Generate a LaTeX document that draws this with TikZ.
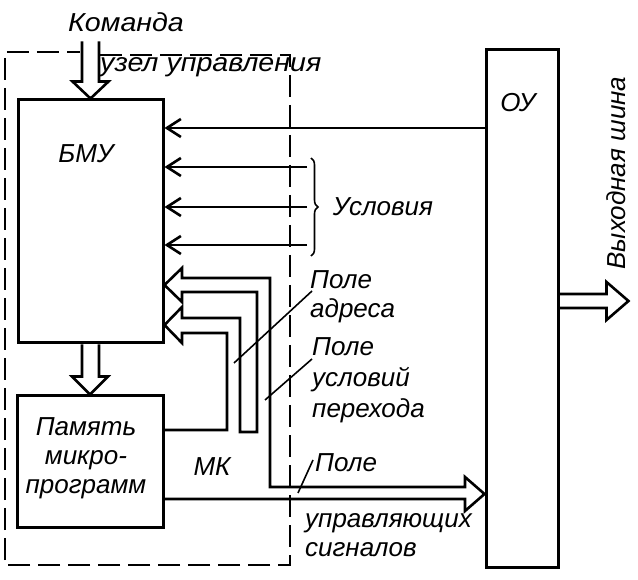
\documentclass[tikz,border=0pt]{standalone}
\usepackage{fontspec}
\setmainfont{Liberation Sans}
\usetikzlibrary{calc,arrows.meta,decorations.pathreplacing}
\tikzset{
  blk/.style={draw, line width=3pt, inner sep=0pt},
  txt/.style={font=\itshape\fontsize{26}{29}\selectfont, inner sep=0pt, align=left},
  sig/.style={line width=2.6pt, -{Straight Barb[length=14pt,width=18pt,line width=2.6pt]}},
  bus/.style={line width=2.6pt, line join=miter},
  lead/.style={line width=1.6pt},
  frame/.style={line width=2.4pt, dash pattern=on 22pt off 8pt}
}

\begin{document}
\begin{tikzpicture}[x=1pt, y=-1pt]
\useasboundingbox (0,0) rectangle (638,580);
\node[blk, minimum width=145, minimum height=243] (bmu) at (90.5,221.5) {};
\node[blk, minimum width=146, minimum height=131] (pm) at (90,461.5) {};
\node[blk, minimum width=72, minimum height=517] (ou) at (522,308.5) {};

\node[txt, xscale=1.1] (cmd) at (126,22) {Команда};
\node[txt, anchor=west, xscale=1.1] (uzel) at (100,67) {узел управления};
\node[txt] (bmut) at (86,154) {БМУ};
\node[txt, align=center] (pmt) at (86,458) {Память\\микро-\\программ};
\node[txt] (out) at (518,103) {ОУ};
\node[txt, rotate=90] (obust) at (616,173) {Выходная шина};
\node[txt] (cond) at (383,207) {Условия};
\node[txt, anchor=west] (fa) at (310,297) {Поле\\адреса};
\node[txt, anchor=west, font=\itshape\fontsize{26}{31}\selectfont] (fu) at (312,380) {Поле\\условий\\перехода};
\node[txt] (mk) at (212,467) {МК};
\node[txt, anchor=west] (fc) at (315,463) {Поле};
\node[txt, anchor=west] (fcs) at (305,535) {управляющих\\сигналов};

\draw[frame] (100,55) -- (290,55) -- (290,565) -- (5,565) -- (5,52) -- (80,52);

\draw[bus] ($(bmu.north)+(-8.5,-57)$) |- ($(bmu.north)+(-18,-17)$) -- (bmu.north)
  -- ($(bmu.north)+(18,-17)$) -| ($(bmu.north)+(8.5,-57)$);
\draw[bus] ($(bmu.south)+(-8.5,0)$) |- ($(pm.north)+(-18,-18)$) -- (pm.north)
  -- ($(pm.north)+(18,-18)$) -| ($(bmu.south)+(8.5,0)$);

\coordinate (obus) at ($(ou.east)+(69,-7.5)$);
\draw[bus] ($(ou.east)+(0,-14.5)$) -| ($(obus)+(-22,-19)$) -- (obus)
  -- ($(obus)+(-22,19)$) |- ($(ou.east)+(0,-0.5)$);

\draw[sig] (ou.west |- 0,128) -- (bmu.east |- 0,128);
\foreach \y/\n in {167/c1, 207/c2, 245/c3} {
  \coordinate (\n) at (307,\y);
  \draw[sig] (\n) -- (bmu.east |- \n);
}
\draw[lead, decorate, decoration={brace, amplitude=7pt}] (311,158) -- (311,256);

\draw[bus] (pm.east |- 0,430) -| (227,333) -- (182,333) -- (182,343) -- (bmu.east |- 0,325)
  -- (182,307) -- (182,318) -| (240,432) -| (257,292) -- (182,292) -- (182,302)
  -- (bmu.east |- 0,285) -- (182,268) -- (182,278) -| (270,487) -- (465,487) -- (465,477)
  -- (ou.west |- 0,494) -- (465,511) -- (465,499) -- (pm.east |- 0,499);

\draw[lead] ($(fa.west)+(2,-6)$) -- ++(-78,72);
\draw[lead] ($(fu.west)+(0,-21)$) -- ++(-47,41);
\draw[lead] ($(fc.west)+(-2,-3)$) -- ++(-15,33);
\end{tikzpicture}
\end{document}
